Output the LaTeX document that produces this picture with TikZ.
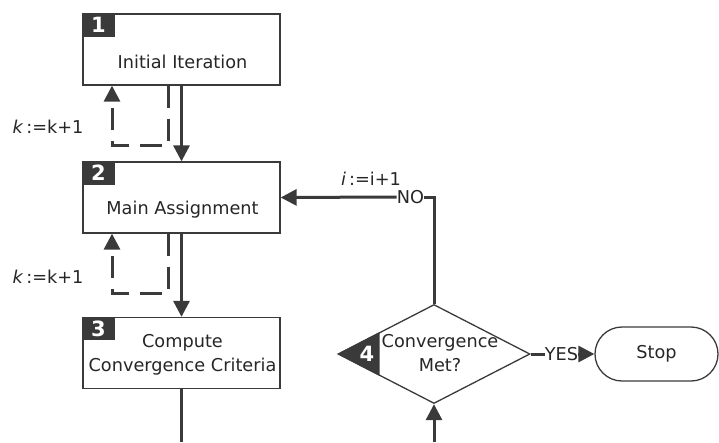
\documentclass[tikz,border=0pt]{standalone}
\usepackage{fontspec}
\setmainfont{DejaVu Sans}
\usetikzlibrary{arrows.meta, positioning, shapes.geometric, calc}
\definecolor{ink}{HTML}{3A3A3A}

\begin{document}
\begin{tikzpicture}[x=10pt, y=-10pt,
    box/.style={draw=ink, line width=1.3pt, minimum width=197pt,
                minimum height=71pt, inner sep=0pt},
    tag/.style={fill=ink, text=white, font=\fontsize{21}{21}\selectfont\bfseries,
                minimum width=32pt, minimum height=23pt, inner sep=0pt,
                anchor=north west},
    item/.style={font=\fontsize{17.7}{24}\selectfont, align=center, text=black!85},
    decide/.style={diamond, draw=ink, line width=1.3pt, minimum width=192pt,
                   minimum height=99pt, inner sep=0pt, aspect=1.94},
    terminal/.style={draw=ink, line width=1.3pt, rounded corners=27pt,
                     minimum width=123pt, minimum height=54pt,
                     font=\fontsize{17.7}{20}\selectfont, text=black!85},
    wire/.style={draw=ink, line width=3pt},
    flow/.style={wire, -{Triangle[length=16pt, width=16pt]}},
    back/.style={flow, dash pattern=on 22pt off 11pt}
  ]
    \useasboundingbox (0,0) rectangle (71.9,44.2);

    % Left column
    \node[box] (init) at (18.15,4.95) {};
    \node[tag] at (init.north west) {1};
    \node[item] at (18.25,6.2) {Initial Iteration};

    \node[box] (main) at (18.15,19.75) {};
    \node[tag] at (main.north west) {2};
    \node[item] at (18.25,21.0) {Main Assignment};

    \node[box] (crit) at (18.15,35.3) {};
    \node[tag] at (crit.north west) {3};
    \node[item] at (18.25,35.5) {Compute\\Convergence Criteria};

    % Decision and stop
    \node[decide] (conv) at (43.4,35.4) {};
    \fill[ink] (conv.west) -- ($(conv.west)!0.4375!(conv.north)$)
      -- ($(conv.west)!0.4375!(conv.south)$) -- cycle;
    \node[font=\fontsize{21}{21}\selectfont\bfseries, text=white] at (36.7,35.4) {4};
    \node[item] at (44.0,35.3) {Convergence\\Met?};

    \node[terminal] (stop) at (65.65,35.4) {Stop};

    % Counters
    \node[item, inner sep=0pt] at (4.8,12.7) {\textit{k}\,:=k+1};
    \node[item, inner sep=0pt] at (4.8,27.7) {\textit{k}\,:=k+1};
    \node[item, inner sep=0pt] at (37.1,17.9) {\textit{i}\,:=i+1};

    \node[item, inner sep=0pt] (no) at (41.05,19.7) {NO};
    \node[item, inner sep=0pt] (yes) at (56.15,35.4) {YES};

    % Connectors
    \draw[flow] (init.south) -- (main.north);
    \draw[back] ([xshift=-13.5pt]init.south) -- ++(0,6)
      -| ([xshift=-69.5pt]init.south);
    \draw[flow] (main.south) -- (crit.north);
    \draw[back] ([xshift=-13.5pt]main.south) -- ++(0,6)
      -| ([xshift=-69.5pt]main.south);

    \coordinate (outL) at (18.15,44.2);
    \coordinate (inR) at (43.4,44.2);
    \draw[wire] (crit.south) -- (outL);
    \draw[flow] (inR) -- (conv.south);

    \draw[wire] (conv.north) |- (no.east);
    \draw[flow] (no.west) -- (main.east);
    \draw[wire] (conv.east) -- (yes.west);
    \draw[flow] (yes.east) -- (stop.west);
  \end{tikzpicture}
\end{document}
